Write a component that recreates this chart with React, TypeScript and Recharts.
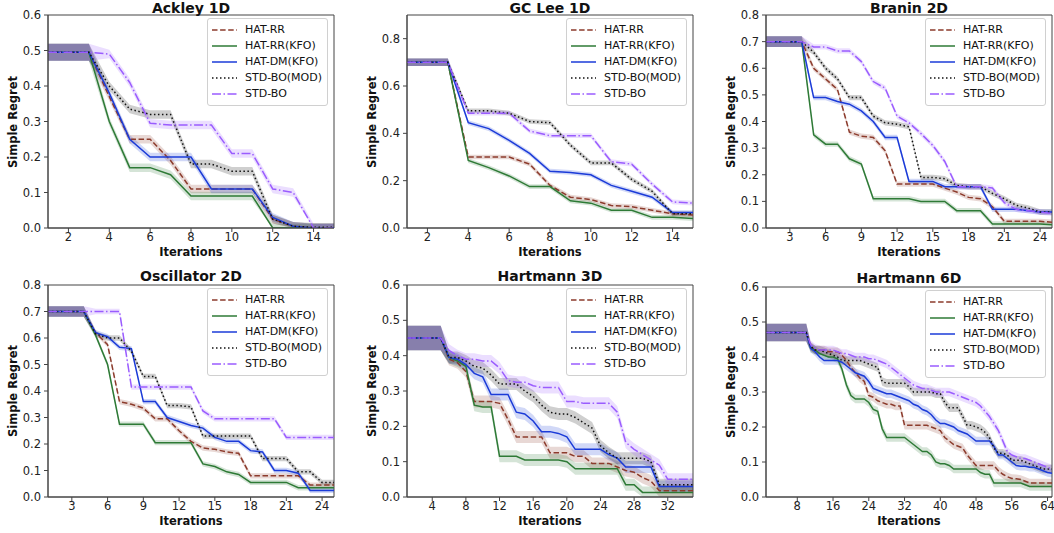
import React from 'react';
import { ComposedChart, Line, Area, XAxis, YAxis, Legend, ReferenceArea } from 'recharts';

// ---------- series meta ----------
const SERIES = [
  { key: 'hatRR', name: 'HAT-RR', color: '#8c3b2c', dash: '5.5 2.6' },
  { key: 'hatRRKFO', name: 'HAT-RR(KFO)', color: '#2e7a36', dash: undefined as string | undefined },
  { key: 'hatDMKFO', name: 'HAT-DM(KFO)', color: '#1b3bd8', dash: undefined as string | undefined },
  { key: 'stdBOMOD', name: 'STD-BO(MOD)', color: '#111111', dash: '1.5 2.5' },
  { key: 'stdBO', name: 'STD-BO', color: '#9a5cff', dash: '9 2.5 1.5 2.5' },
];

// ---------- Ackley 1D ----------
const ackleyHatRR = [0.495, 0.495, 0.495, 0.37, 0.25, 0.25, 0.19, 0.11, 0.11, 0.11, 0.11, 0.025, 0.005, 0, 0];
const ackleyHatRRKFO = [0.495, 0.495, 0.495, 0.30, 0.17, 0.17, 0.15, 0.09, 0.09, 0.09, 0.09, 0.0, 0, 0, 0];
const ackleyHatDMKFO = [0.495, 0.495, 0.495, 0.38, 0.25, 0.20, 0.20, 0.20, 0.11, 0.11, 0.11, 0.03, 0.005, 0, 0];
const ackleyStdBOMOD = [0.495, 0.495, 0.495, 0.40, 0.335, 0.32, 0.32, 0.18, 0.18, 0.16, 0.16, 0.025, 0.005, 0.002, 0.002];
const ackleyStdBO = [0.495, 0.495, 0.495, 0.49, 0.41, 0.295, 0.29, 0.29, 0.29, 0.21, 0.21, 0.11, 0.10, 0.0, 0];

// ---------- GC Lee 1D ----------
const gcleeHatRR = [0.70, 0.70, 0.70, 0.30, 0.30, 0.30, 0.27, 0.18, 0.13, 0.12, 0.095, 0.09, 0.075, 0.06, 0.055];
const gcleeHatRRKFO = [0.70, 0.70, 0.70, 0.285, 0.255, 0.22, 0.175, 0.175, 0.115, 0.105, 0.075, 0.075, 0.045, 0.045, 0.04];
const gcleeHatDMKFO = [0.70, 0.70, 0.70, 0.445, 0.42, 0.37, 0.315, 0.24, 0.235, 0.225, 0.18, 0.155, 0.13, 0.065, 0.065];
const gcleeStdBOMOD = [0.70, 0.70, 0.70, 0.495, 0.495, 0.485, 0.45, 0.445, 0.35, 0.275, 0.275, 0.205, 0.155, 0.06, 0.06];
const gcleeStdBO = [0.70, 0.70, 0.70, 0.485, 0.485, 0.485, 0.41, 0.39, 0.39, 0.39, 0.28, 0.27, 0.185, 0.11, 0.105];

// ---------- Branin 2D ----------
const braninHatRR = [0.70, 0.70, 0.70, 0.70, 0.60, 0.56, 0.52, 0.36, 0.345, 0.34, 0.29, 0.165, 0.165, 0.165, 0.165, 0.15, 0.135, 0.115, 0.11, 0.08, 0.025, 0.025, 0.025, 0.025, 0.022];
const braninHatRRKFO = [0.70, 0.70, 0.70, 0.70, 0.35, 0.315, 0.315, 0.26, 0.24, 0.11, 0.11, 0.11, 0.11, 0.10, 0.10, 0.10, 0.065, 0.065, 0.065, 0.015, 0.015, 0.015, 0.015, 0.015, 0.012];
const braninHatDMKFO = [0.70, 0.70, 0.70, 0.70, 0.49, 0.49, 0.475, 0.465, 0.44, 0.40, 0.34, 0.34, 0.175, 0.175, 0.175, 0.155, 0.155, 0.155, 0.155, 0.07, 0.07, 0.07, 0.065, 0.06, 0.06];
const braninStdBOMOD = [0.70, 0.70, 0.70, 0.70, 0.66, 0.60, 0.56, 0.49, 0.49, 0.42, 0.395, 0.39, 0.38, 0.19, 0.19, 0.185, 0.16, 0.155, 0.155, 0.13, 0.11, 0.085, 0.075, 0.06, 0.06];
const braninStdBO = [0.70, 0.70, 0.70, 0.70, 0.68, 0.68, 0.665, 0.665, 0.625, 0.55, 0.525, 0.42, 0.395, 0.355, 0.31, 0.25, 0.155, 0.155, 0.155, 0.15, 0.095, 0.07, 0.065, 0.06, 0.055];

// ---------- Oscillator 2D ----------
const oscHatRR = [0.70, 0.70, 0.70, 0.70, 0.62, 0.575, 0.36, 0.35, 0.335, 0.295, 0.295, 0.25, 0.21, 0.185, 0.18, 0.17, 0.165, 0.08, 0.08, 0.08, 0.08, 0.08, 0.045, 0.045, 0.045];
const oscHatRRKFO = [0.70, 0.70, 0.70, 0.70, 0.61, 0.50, 0.275, 0.275, 0.275, 0.205, 0.205, 0.205, 0.205, 0.125, 0.115, 0.095, 0.085, 0.055, 0.055, 0.055, 0.055, 0.035, 0.035, 0.035, 0.035];
const oscHatDMKFO = [0.70, 0.70, 0.70, 0.70, 0.62, 0.605, 0.565, 0.56, 0.36, 0.36, 0.30, 0.285, 0.27, 0.26, 0.225, 0.21, 0.21, 0.175, 0.17, 0.10, 0.10, 0.09, 0.025, 0.025, 0.025];
const oscStdBOMOD = [0.70, 0.70, 0.70, 0.70, 0.615, 0.60, 0.60, 0.55, 0.455, 0.455, 0.345, 0.345, 0.34, 0.23, 0.23, 0.23, 0.23, 0.23, 0.145, 0.145, 0.145, 0.095, 0.095, 0.055, 0.055];
const oscStdBO = [0.70, 0.70, 0.70, 0.70, 0.70, 0.70, 0.70, 0.415, 0.415, 0.415, 0.415, 0.415, 0.415, 0.325, 0.295, 0.295, 0.295, 0.295, 0.295, 0.295, 0.225, 0.225, 0.225, 0.225, 0.225];

// ---------- Hartmann 3D ----------
const h3HatRR = [0.45, 0.45, 0.45, 0.45, 0.45, 0.39, 0.38, 0.355, 0.27, 0.27, 0.27, 0.265, 0.22, 0.17, 0.17, 0.17, 0.17, 0.125, 0.125, 0.125, 0.115, 0.115, 0.095, 0.095, 0.095, 0.085, 0.075, 0.07, 0.055, 0.045, 0.018, 0.018, 0.018, 0.018, 0.018];
const h3HatRRKFO = [0.45, 0.45, 0.45, 0.45, 0.45, 0.395, 0.385, 0.37, 0.26, 0.255, 0.255, 0.115, 0.115, 0.115, 0.105, 0.105, 0.105, 0.105, 0.105, 0.10, 0.08, 0.08, 0.08, 0.08, 0.08, 0.08, 0.035, 0.035, 0.013, 0.013, 0.013, 0.013, 0.013, 0.013, 0.013];
const h3HatDMKFO = [0.45, 0.45, 0.45, 0.45, 0.45, 0.395, 0.39, 0.375, 0.35, 0.34, 0.29, 0.29, 0.29, 0.24, 0.235, 0.215, 0.185, 0.185, 0.18, 0.17, 0.135, 0.135, 0.135, 0.135, 0.12, 0.11, 0.085, 0.085, 0.085, 0.085, 0.03, 0.03, 0.03, 0.03, 0.03];
const h3StdBOMOD = [0.45, 0.45, 0.45, 0.45, 0.45, 0.395, 0.395, 0.385, 0.37, 0.365, 0.345, 0.32, 0.32, 0.32, 0.30, 0.285, 0.26, 0.24, 0.235, 0.235, 0.225, 0.21, 0.195, 0.145, 0.125, 0.11, 0.11, 0.11, 0.11, 0.10, 0.035, 0.035, 0.035, 0.035, 0.035];
const h3StdBO = [0.45, 0.45, 0.45, 0.45, 0.45, 0.415, 0.40, 0.39, 0.39, 0.385, 0.385, 0.365, 0.33, 0.325, 0.325, 0.315, 0.31, 0.31, 0.31, 0.27, 0.27, 0.265, 0.265, 0.265, 0.265, 0.24, 0.155, 0.135, 0.12, 0.105, 0.09, 0.05, 0.05, 0.05, 0.05];

// ---------- Hartmann 6D ----------
const h6HatRR = [
  0.47, 0.47, 0.47, 0.47, 0.47, 0.47, 0.47, 0.47, 0.47, 0.47,
  0.43, 0.42, 0.42, 0.42, 0.415, 0.415, 0.415, 0.405, 0.39, 0.37,
  0.355, 0.34, 0.33, 0.29, 0.285, 0.275, 0.27, 0.265, 0.265, 0.26,
  0.26, 0.205, 0.205, 0.205, 0.205, 0.205, 0.205, 0.20, 0.195, 0.19,
  0.17, 0.16, 0.15, 0.145, 0.14, 0.12, 0.105, 0.09, 0.09, 0.09,
  0.09, 0.09, 0.075, 0.065, 0.058, 0.053, 0.052, 0.05, 0.045, 0.04,
  0.04, 0.04, 0.04, 0.04, 0.04,
];
const h6HatRRKFO = [
  0.47, 0.47, 0.47, 0.47, 0.47, 0.47, 0.47, 0.47, 0.47, 0.47,
  0.425, 0.42, 0.41, 0.405, 0.40, 0.40, 0.395, 0.365, 0.32, 0.29,
  0.28, 0.28, 0.28, 0.27, 0.25, 0.245, 0.195, 0.17, 0.17, 0.17,
  0.17, 0.17, 0.16, 0.15, 0.14, 0.13, 0.13, 0.12, 0.10, 0.095,
  0.095, 0.09, 0.08, 0.08, 0.08, 0.08, 0.08, 0.08, 0.07, 0.065,
  0.065, 0.04, 0.04, 0.04, 0.04, 0.04, 0.04, 0.04, 0.035, 0.03,
  0.03, 0.03, 0.03, 0.03, 0.03,
];
const h6HatDMKFO = [
  0.47, 0.47, 0.47, 0.47, 0.47, 0.47, 0.47, 0.47, 0.47, 0.47,
  0.425, 0.415, 0.40, 0.39, 0.39, 0.39, 0.39, 0.385, 0.375, 0.365,
  0.355, 0.35, 0.345, 0.33, 0.31, 0.305, 0.30, 0.295, 0.295, 0.29,
  0.285, 0.28, 0.275, 0.265, 0.26, 0.25, 0.245, 0.235, 0.22, 0.21,
  0.21, 0.205, 0.20, 0.19, 0.185, 0.18, 0.17, 0.16, 0.16, 0.16,
  0.16, 0.145, 0.12, 0.12, 0.11, 0.10, 0.09, 0.088, 0.088, 0.085,
  0.085, 0.08, 0.075, 0.07, 0.068,
];
const h6StdBOMOD = [
  0.47, 0.47, 0.47, 0.47, 0.47, 0.47, 0.47, 0.47, 0.47, 0.47,
  0.43, 0.42, 0.42, 0.415, 0.41, 0.405, 0.40, 0.39, 0.39, 0.39,
  0.39, 0.39, 0.385, 0.38, 0.375, 0.37, 0.33, 0.325, 0.325, 0.325,
  0.325, 0.325, 0.315, 0.30, 0.30, 0.30, 0.30, 0.30, 0.295, 0.295,
  0.27, 0.255, 0.255, 0.255, 0.23, 0.205, 0.205, 0.20, 0.195, 0.185,
  0.17, 0.14, 0.125, 0.125, 0.12, 0.105, 0.105, 0.105, 0.10, 0.095,
  0.09, 0.085, 0.08, 0.08, 0.08,
];
const h6StdBO = [
  0.47, 0.47, 0.47, 0.47, 0.47, 0.47, 0.47, 0.47, 0.47, 0.47,
  0.435, 0.425, 0.42, 0.42, 0.42, 0.42, 0.415, 0.41, 0.41, 0.405,
  0.40, 0.40, 0.40, 0.395, 0.395, 0.39, 0.385, 0.38, 0.37, 0.36,
  0.35, 0.34, 0.33, 0.32, 0.315, 0.31, 0.31, 0.305, 0.30, 0.30,
  0.30, 0.30, 0.295, 0.29, 0.285, 0.28, 0.275, 0.27, 0.26, 0.245,
  0.23, 0.21, 0.19, 0.16, 0.13, 0.12, 0.115, 0.11, 0.11, 0.105,
  0.10, 0.095, 0.09, 0.085, 0.08,
];

// ---------- tick labels ----------
const ticksX15 = [2, 4, 6, 8, 10, 12, 14];
const ticksX25 = [3, 6, 9, 12, 15, 18, 21, 24];
const ticksX35 = [4, 8, 12, 16, 20, 24, 28, 32];
const ticksX65 = [8, 16, 24, 32, 40, 48, 56, 64];
const ticksY06 = [0, 0.1, 0.2, 0.3, 0.4, 0.5, 0.6];
const ticksY08 = [0, 0.1, 0.2, 0.3, 0.4, 0.5, 0.6, 0.7, 0.8];
const ticksY08b = [0, 0.2, 0.4, 0.6, 0.8];

type Spec = {
  title: string;
  series: number[][];
  xMax: number;
  xTicks: number[];
  yMax: number;
  yTicks: number[];
  initEnd: number;
  initSpread: number;
  spread: number;
  plot: { left: number; top: number; width: number; height: number };
  titleY: number;
};

const SPECS: Spec[] = [
  {
    title: 'Ackley 1D',
    series: [ackleyHatRR, ackleyHatRRKFO, ackleyHatDMKFO, ackleyStdBOMOD, ackleyStdBO],
    xMax: 15, xTicks: ticksX15, yMax: 0.6, yTicks: ticksY06,
    initEnd: 3, initSpread: 0.024, spread: 0.012,
    plot: { left: 48, top: 15, width: 286, height: 213 }, titleY: 8,
  },
  {
    title: 'GC Lee 1D',
    series: [gcleeHatRR, gcleeHatRRKFO, gcleeHatDMKFO, gcleeStdBOMOD, gcleeStdBO],
    xMax: 15, xTicks: ticksX15, yMax: 0.9, yTicks: ticksY08b,
    initEnd: 3, initSpread: 0.016, spread: 0.01,
    plot: { left: 407, top: 15, width: 286, height: 213 }, titleY: 8,
  },
  {
    title: 'Branin 2D',
    series: [braninHatRR, braninHatRRKFO, braninHatDMKFO, braninStdBOMOD, braninStdBO],
    xMax: 25, xTicks: ticksX25, yMax: 0.8, yTicks: ticksY08,
    initEnd: 4, initSpread: 0.02, spread: 0.01,
    plot: { left: 766, top: 15, width: 286, height: 213 }, titleY: 8,
  },
  {
    title: 'Oscillator 2D',
    series: [oscHatRR, oscHatRRKFO, oscHatDMKFO, oscStdBOMOD, oscStdBO],
    xMax: 25, xTicks: ticksX25, yMax: 0.8, yTicks: ticksY08,
    initEnd: 4, initSpread: 0.02, spread: 0.01,
    plot: { left: 48, top: 285, width: 286, height: 212 }, titleY: 276,
  },
  {
    title: 'Hartmann 3D',
    series: [h3HatRR, h3HatRRKFO, h3HatDMKFO, h3StdBOMOD, h3StdBO],
    xMax: 35, xTicks: ticksX35, yMax: 0.6, yTicks: ticksY06,
    initEnd: 5, initSpread: 0.035, spread: 0.017,
    plot: { left: 407, top: 285, width: 286, height: 212 }, titleY: 276,
  },
  {
    title: 'Hartmann 6D',
    series: [h6HatRR, h6HatRRKFO, h6HatDMKFO, h6StdBOMOD, h6StdBO],
    xMax: 65, xTicks: ticksX65, yMax: 0.6, yTicks: ticksY06,
    initEnd: 10, initSpread: 0.025, spread: 0.012,
    plot: { left: 766, top: 287, width: 286, height: 210 }, titleY: 278,
  },
];

const FONT = '"DejaVu Sans", Verdana, sans-serif';
const YW = 50;
const MT = 8;
const MR = 10;
const XH = 22;
const AXIS = '#444';

const LegendBox = () => (
  <div
    style={{
      background: 'rgba(255,255,255,0.85)',
      border: '1px solid #d0d0d0',
      borderRadius: 3,
      padding: '3px 5px 3px 4px',
      fontSize: 11,
      lineHeight: '16px',
      color: '#111',
      fontFamily: FONT,
    }}
  >
    {SERIES.map((s) => (
      <div key={s.key} style={{ display: 'flex', alignItems: 'center', whiteSpace: 'nowrap' }}>
        <svg width={25} height={10} style={{ marginRight: 8, display: 'block' }}>
          <line x1={0} y1={5} x2={25} y2={5} stroke={s.color} strokeWidth={1.5} strokeDasharray={s.dash} />
        </svg>
        <span>{s.name}</span>
      </div>
    ))}
  </div>
);

function SubPlot({ spec }: { spec: Spec }) {
  const n = spec.series[0].length;
  const rows = Array.from({ length: n }, (_, i) => {
    const row: Record<string, any> = { it: i + 1 };
    const sp = i + 1 <= spec.initEnd ? spec.initSpread : spec.spread;
    SERIES.forEach((s, j) => {
      const v = spec.series[j][i];
      row[s.key] = v;
      row[s.key + 'Band'] = [Math.max(0, v - sp), v + sp];
    });
    return row;
  });
  const { left, top, width, height } = spec.plot;
  const W = YW + width + MR;
  const H = MT + height + XH;
  return (
    <>
      <div style={{ position: 'absolute', left: left - YW, top: top - MT, width: W, height: H }}>
        <ComposedChart width={W} height={H} data={rows} margin={{ top: MT, right: MR, left: 0, bottom: 0 }}>
          <XAxis
            dataKey="it"
            type="number"
            domain={[1, spec.xMax]}
            ticks={spec.xTicks}
            interval={0}
            allowDataOverflow
            height={XH}
            tickSize={4}
            tickMargin={1}
            stroke={AXIS}
            tick={{ fontSize: 11.5, fill: '#222', fontFamily: FONT }}
          />
          <YAxis
            type="number"
            domain={[0, spec.yMax]}
            ticks={spec.yTicks}
            interval={0}
            allowDataOverflow
            width={YW}
            tickSize={4}
            tickMargin={3}
            stroke={AXIS}
            tickFormatter={(v: number) => v.toFixed(1)}
            tick={{ fontSize: 11.5, fill: '#222', fontFamily: FONT }}
          />
          {SERIES.map((s) => (
            <Area
              key={s.key + 'Band'}
              type="linear"
              dataKey={s.key + 'Band'}
              stroke="none"
              fill={s.color}
              fillOpacity={0.2}
              isAnimationActive={false}
              legendType="none"
              dot={false}
              activeDot={false}
            />
          ))}
          {SERIES.map((s) => (
            <Line
              key={s.key}
              type="linear"
              dataKey={s.key}
              name={s.name}
              stroke={s.color}
              strokeWidth={1.5}
              strokeDasharray={s.dash}
              dot={false}
              activeDot={false}
              isAnimationActive={false}
            />
          ))}
          <ReferenceArea
            x1={1}
            x2={spec.xMax}
            y1={0}
            y2={spec.yMax}
            fill="none"
            fillOpacity={0}
            stroke={AXIS}
            strokeWidth={1}
            ifOverflow="visible"
          />
          <Legend
            layout="vertical"
            align="center"
            verticalAlign="middle"
            wrapperStyle={{ top: MT + 3, right: MR + 6, width: 'auto' }}
            content={() => <LegendBox />}
          />
        </ComposedChart>
      </div>
      <div
        style={{
          position: 'absolute', left, width, top: spec.titleY - 9, height: 18, lineHeight: '18px',
          textAlign: 'center', fontWeight: 'bold', fontSize: 14, fontFamily: FONT, color: '#111',
        }}
      >
        {spec.title}
      </div>
      <div
        style={{
          position: 'absolute', left, width, top: top + height + 24 - 8, height: 16, lineHeight: '16px',
          textAlign: 'center', fontWeight: 'bold', fontSize: 11.5, fontFamily: FONT, color: '#111',
        }}
      >
        Iterations
      </div>
      <div
        style={{
          position: 'absolute', left: left - 35 - 70, width: 140, top: top + height / 2 - 8, height: 16,
          lineHeight: '16px', textAlign: 'center', fontWeight: 'bold', fontSize: 11.5, fontFamily: FONT,
          color: '#111', transform: 'rotate(-90deg)',
        }}
      >
        Simple Regret
      </div>
    </>
  );
}

export default function App() {
  return (
    <div style={{ position: 'absolute', left: 0, top: 0, width: 1054, height: 533, background: '#fff', fontFamily: FONT, overflow: 'hidden' }}>
      {SPECS.map((s) => (
        <SubPlot key={s.title} spec={s} />
      ))}
    </div>
  );
}
